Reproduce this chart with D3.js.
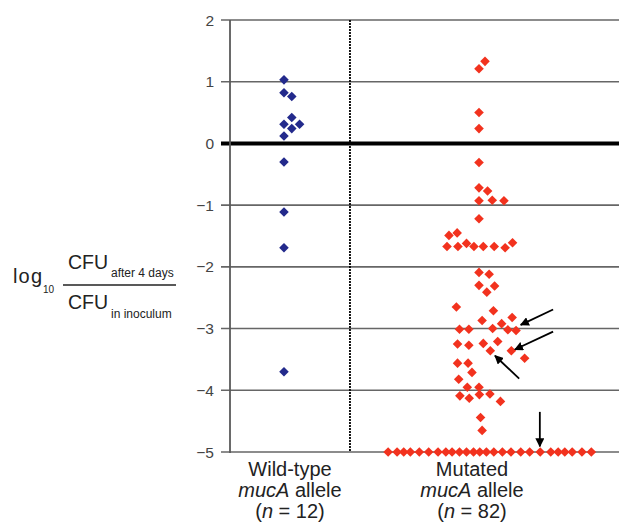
<!DOCTYPE html>
<html>
<head>
<meta charset="utf-8">
<script src="https://cdn.jsdelivr.net/npm/d3@7"></script>
<style>
  html, body { margin: 0; padding: 0; background: #fff; }
  svg { display: block; font-family: 'Liberation Sans', Arial, sans-serif; }
</style>
</head>
<body>
<svg id="chart" width="619" height="525"></svg>
<script>
/* log10 survival dot plot: wild-type vs mutated mucA allele */
// tick values on the y axis
var yTicks = [2, 1, 0, -1, -2, -3, -4, -5];

// wild-type allele: log10 ratio and column offset (in diamond widths)
var wtValue  = [1.03, 0.82, 0.76, 0.42, 0.31, 0.31, 0.24, 0.12, -0.30, -1.11, -1.69, -3.70];
var wtOffset = [0, 0, 1, 1, 0, 2, 1, 0, 0, 0, 0, 0];

// mutated allele: log10 ratio and column offset (in diamond widths)
var mutValue = [1.33, 1.21, 0.50, 0.24, -0.31, -0.72, -0.77, -0.93, -0.92, -0.93,
  -1.22, -1.49, -1.45, -1.67, -1.67, -1.62, -1.67, -1.67, -1.67, -1.69, -1.61,
  -2.09, -2.12, -2.30, -2.31, -2.41, -2.65, -2.71, -2.87, -2.82, -2.92,
  -3.01, -3.01, -3.00, -3.02, -3.03, -3.25, -3.27, -3.24, -3.21, -3.36, -3.36, -3.48,
  -3.56, -3.56, -3.71, -3.82, -3.95, -3.95, -4.09, -4.13, -4.07, -4.06, -4.18, -4.44, -4.65,
  -5, -5, -5, -5, -5, -5, -5, -5, -5, -5, -5, -5, -5,
  -5, -5, -5, -5, -5, -5, -5, -5, -5, -5, -5, -5, -5];
var mutOffset = [0.77, 0, 0, 0, 0, 0, 1.1, 0, 1.7, 3.2,
  0, -3.85, -2.8, -4.1, -2.7, -1.6, -0.65, 0.55, 1.95, 3.35, 4.3,
  0, 1.3, 0, 2.0, 1.0, -2.9, 1.85, 0.4, 4.25, 2.9,
  -2.5, -1.3, 1.75, 3.7, 4.75, -2.75, -1.3, 0.55, 2.4, 1.45, 4.15, 5.85,
  -2.75, -1.4, -0.9, -2.6, -1.5, 0, -2.45, -1.25, 0.05, 1.4, 2.75, 0.2, 0.4,
  -11.65, -10.5, -9.65, -8.8, -7.65, -6.45, -5.25, -4.25, -3.45, -2.5, -1.6, -0.7, 0.1,
  0.95, 1.9, 3.0, 4.1, 5.35, 6.5, 7.85, 9.2, 10.15, 11.0, 11.95, 13.2, 14.4];

// highlighted isolates (arrows, mutated column): [fromOffset, fromValue, toOffset, toValue]
var arrows = [[9.5, -2.69, 5.35, -2.94], [9.5, -3.05, 4.6, -3.34], [5.15, -3.81, 2.05, -3.44], [7.8, -4.35, 7.8, -4.91]];

// column centres in diamond-width units, and the group labels
var groupCentre = [0, 25];
var groupLine1 = ['Wild-type', 'Mutated'];
var groupN = [12, 82];

var svg = d3.select('#chart');
var y = d3.scaleLinear().domain([-5, 2]).range([452, 20]);
var x = d3.scaleLinear().domain([-6.92, 42.82]).range([230, 618]);
var divider = 8.46;

// grid lines (extend past the axis as ticks)
svg.append('g').selectAll('line').data(yTicks).enter().append('line')
  .attr('x1', 221).attr('x2', 619)
  .attr('y1', function (d) { return y(d); }).attr('y2', function (d) { return y(d); })
  .attr('stroke', function (d) { return d === 0 ? '#000' : '#666'; })
  .attr('stroke-width', function (d) { return d === 0 ? 4 : 1.6; });

// y axis line and dotted divider
svg.append('line').attr('x1', x.range()[0]).attr('x2', x.range()[0]).attr('y1', y(2)).attr('y2', y(-5) + 1)
  .attr('stroke', '#5a5a5a').attr('stroke-width', 1.8);
svg.append('line').attr('x1', x(divider)).attr('x2', x(divider)).attr('y1', y(2)).attr('y2', y(-5))
  .attr('stroke', '#000').attr('stroke-width', 1.8).attr('stroke-dasharray', '2,1');

// tick labels
svg.append('g').selectAll('text').data(yTicks).enter().append('text')
  .attr('x', 214).attr('y', function (d) { return y(d) + 5.5; })
  .attr('text-anchor', 'end').attr('font-size', 15.5).attr('fill', '#444')
  .text(function (d) { return d < 0 ? '\u2212' + (-d) : d; });

// points
var diamond = d3.symbol().type(d3.symbolSquare).size(46);
function plot(values, offsets, centre, colour) {
  svg.append('g').selectAll('path').data(values).enter().append('path')
    .attr('d', diamond)
    .attr('transform', function (d, i) { return 'translate(' + x(centre + offsets[i]) + ',' + y(d) + ') rotate(45)'; })
    .attr('fill', colour);
}
plot(wtValue, wtOffset, groupCentre[0], '#232a8c');
plot(mutValue, mutOffset, groupCentre[1], '#f2321e');

// arrows
svg.append('defs').append('marker').attr('id', 'head').attr('viewBox', '0 0 10 10')
  .attr('refX', 9).attr('refY', 5).attr('markerWidth', 5).attr('markerHeight', 5).attr('orient', 'auto')
  .append('path').attr('d', 'M0,0 L10,5 L0,10 Z').attr('fill', '#000');
svg.append('g').selectAll('line').data(arrows).enter().append('line')
  .attr('x1', function (d) { return x(groupCentre[1] + d[0]); }).attr('y1', function (d) { return y(d[1]); })
  .attr('x2', function (d) { return x(groupCentre[1] + d[2]); }).attr('y2', function (d) { return y(d[3]); })
  .attr('stroke', '#000').attr('stroke-width', 1.8).attr('marker-end', 'url(#head)');

// group labels
var gl = svg.append('g').selectAll('text').data(groupCentre).enter().append('text')
  .attr('text-anchor', 'middle').attr('font-size', 20).attr('fill', '#222');
var ctr = [290, 472];
gl.append('tspan').attr('x', function (d, i) { return ctr[i]; }).attr('y', 476)
  .text(function (d, i) { return groupLine1[i]; });
gl.append('tspan').attr('x', function (d, i) { return ctr[i]; }).attr('y', 497)
  .html('<tspan font-style="italic">mucA</tspan> allele');
gl.append('tspan').attr('x', function (d, i) { return ctr[i]; }).attr('y', 518)
  .html(function (d, i) { return '(<tspan font-style="italic">n</tspan> = ' + groupN[i] + ')'; });

// y axis title: log10 CFU ratio
var yt = svg.append('g').attr('fill', '#222');
yt.append('text').attr('x', 13).attr('y', 283).attr('font-size', 20).attr('textLength', 29).text('log');
yt.append('text').attr('x', 43).attr('y', 293).attr('font-size', 10).text('10');
yt.append('line').attr('x1', 63).attr('x2', 176).attr('y1', 285).attr('y2', 285).attr('stroke', '#222').attr('stroke-width', 1.3);
yt.append('text').attr('x', 68).attr('y', 269).attr('font-size', 19.5).text('CFU');
yt.append('text').attr('x', 111).attr('y', 277).attr('font-size', 12).text('after 4 days');
yt.append('text').attr('x', 68).attr('y', 309).attr('font-size', 19.5).text('CFU');
yt.append('text').attr('x', 111).attr('y', 318).attr('font-size', 12).text('in inoculum');
</script>
</body>
</html>
